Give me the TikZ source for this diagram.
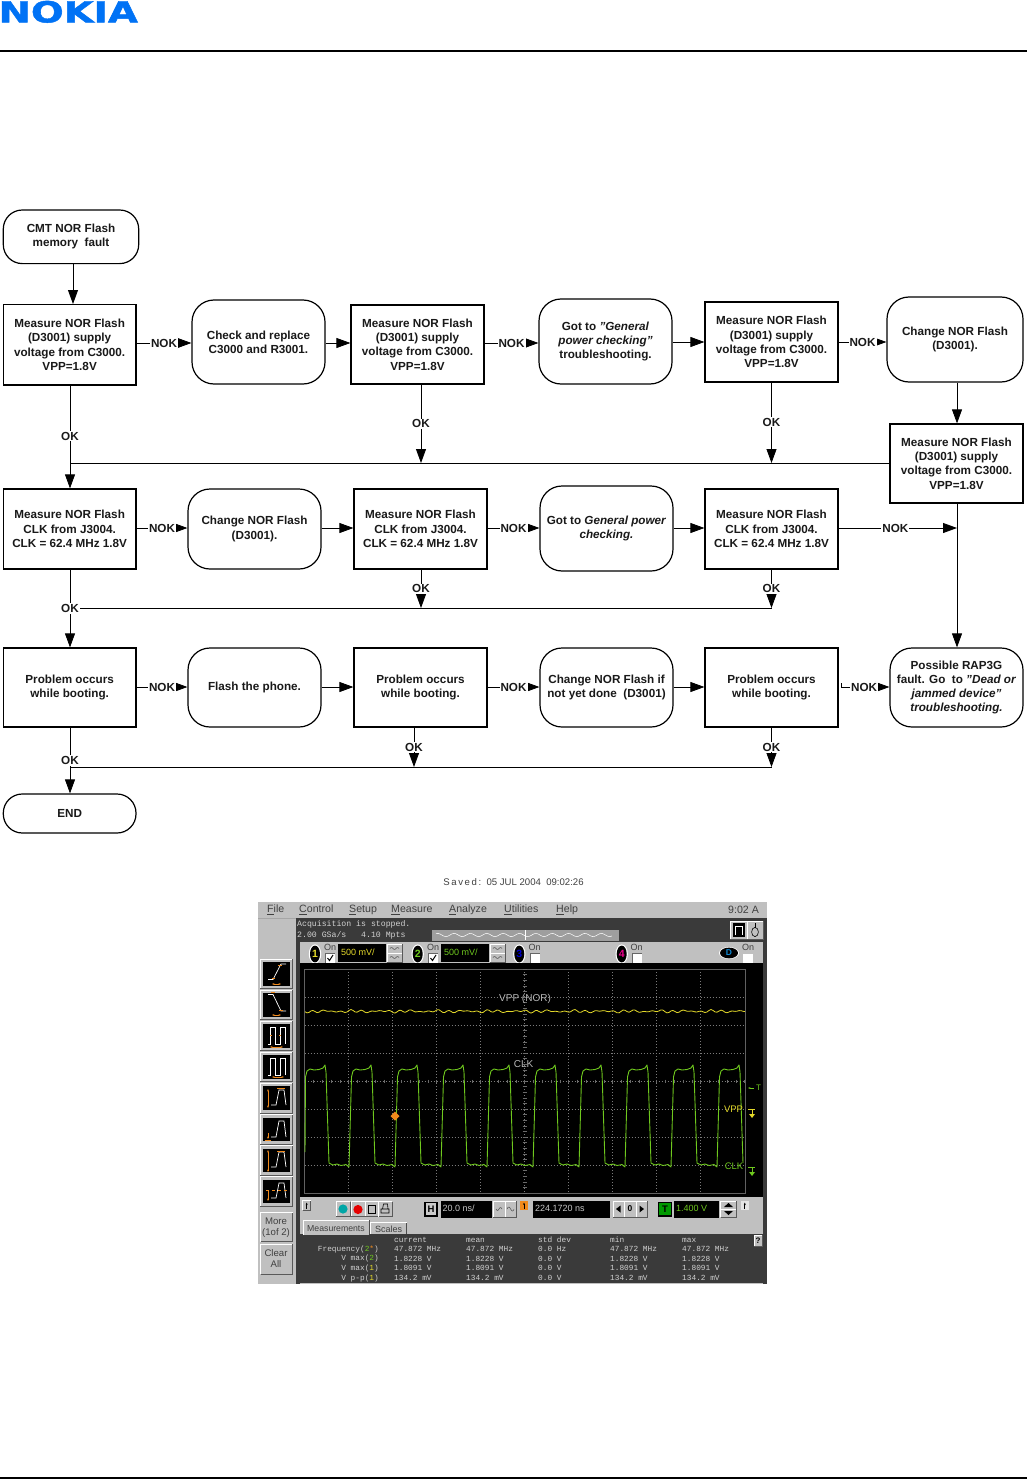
\documentclass[tikz,border=0pt]{standalone}
\usepackage{fontspec}
\setmainfont{Liberation Sans}
\newfontfamily\nokiafont[FakeBold=1.5]{DejaVu Sans Bold}
\newfontfamily\scopemono{Liberation Mono}
\usetikzlibrary{arrows.meta,shapes.geometric,calc}
\definecolor{nokiablue}{HTML}{0072F5}
\definecolor{panelgray}{HTML}{C0C0C0}
\definecolor{darkpanel}{HTML}{3A3A3A}
\definecolor{tracegreen}{HTML}{6FC81E}
\definecolor{traceyellow}{HTML}{E4D92A}
\definecolor{scopeorange}{HTML}{F08A1C}
\tikzset{
  flowtext/.style={font=\fontsize{11.7}{14.3}\selectfont\bfseries,align=center,inner sep=0pt,text=black!90},
  rectbox/.style={draw=black,line width=1.2pt,flowtext},
  roundbox/.style={draw=black,line width=1.2pt,rounded corners=22pt,flowtext},
  endbox/.style={draw=black,line width=1.2pt,rounded corners=19pt,flowtext},
  flowline/.style={draw=black,line width=0.8pt},
  arrowline/.style={flowline,-{Triangle[length=14pt,width=10pt]}},
  lab/.style={fill=white,inner sep=1pt,font=\fontsize{11.7}{13}\selectfont\bfseries,text=black!90},
  uitext/.style={inner sep=0pt,font=\fontsize{10.6}{11}\selectfont,text=black!75},
  smalltext/.style={inner sep=0pt,font=\fontsize{9}{9.6}\selectfont,text=black!75,align=center},
  monotext/.style={inner sep=0pt,anchor=west,font=\fontsize{7.8}{8}\selectfont\scopemono,text=white!82!black},
  disptext/.style={inner sep=0pt,anchor=west,font=\fontsize{9}{10}\selectfont},
  griddot/.style={draw=white!48!black,line width=0.5pt,dash pattern=on 0.8pt off 2.2pt},
}
\newcommand{\flow}[7]{%
  \pgfmathsetmacro{\fcx}{(#3+#5)/2}\pgfmathsetmacro{\fcy}{(#4+#6)/2}%
  \pgfmathsetmacro{\fw}{#5-#3}\pgfmathsetmacro{\fh}{#6-#4}%
  \node[#1,minimum width=\fw pt,minimum height=\fh pt] (#2) at (\fcx,\fcy) {#7};}
\newcommand{\btn}[4]{%
  \fill[panelgray] (#1,#2) rectangle (#3,#4);
  \draw[white,line width=.8pt] (#1,#4) -- (#1,#2) -- (#3,#2);
  \draw[black!65,line width=.8pt] (#1,#4) -- (#3,#4) -- (#3,#2);}
\begin{document}
\begin{tikzpicture}[x=1pt,y=-1pt]
\useasboundingbox (0,0) rectangle (1027,1479);
\fill[white] (0,0) rectangle (1027,1479);
% header and footer
\begin{scope}
\clip (0,0) rectangle (1027,60);
\node[inner sep=0pt,anchor=base west,text=nokiablue] (logo) at (-1.5,22.4)
  {\scalebox{1.33}[1]{\fontsize{29}{30}\selectfont\nokiafont NOKIA}};
\end{scope}
\draw[black,line width=1.5pt] (0,51) -- (1027,51);
\draw[black,line width=1.5pt] (0,1478.2) -- (1027,1478.2);
% flow nodes
\flow{endbox}{start}{3.3}{210}{138.7}{263.6}{CMT NOR Flash\\memory\ \ fault}
\flow{rectbox}{aa}{3.3}{304.6}{136}{385}{Measure NOR Flash\\(D3001) supply\\voltage from C3000.\\VPP=1.8V}
\flow{roundbox}{ab}{192}{300}{325}{384}{Check and replace\\C3000 and R3001.}
\flow{rectbox}{ac}{351}{305}{484}{384}{Measure NOR Flash\\(D3001) supply\\voltage from C3000.\\VPP=1.8V}
\flow{roundbox}{ad}{539}{299}{672}{384}{Got to \textit{"General}\\\textit{power checking"}\\troubleshooting.}
\flow{rectbox}{ae}{705}{302}{838}{382}{Measure NOR Flash\\(D3001) supply\\voltage from C3000.\\VPP=1.8V}
\flow{roundbox}{af}{887}{297}{1023}{382}{Change NOR Flash\\(D3001).}
\flow{rectbox}{bf}{890}{424}{1023}{503}{Measure NOR Flash\\(D3001) supply\\voltage from C3000.\\VPP=1.8V}
\flow{rectbox}{ba}{3.3}{489}{136}{569}{Measure NOR Flash\\CLK from J3004.\\CLK = 62.4 MHz 1.8V}
\flow{roundbox}{bb}{188}{489}{321}{569}{Change NOR Flash\\(D3001).}
\flow{rectbox}{bc}{354}{489}{487}{569}{Measure NOR Flash\\CLK from J3004.\\CLK = 62.4 MHz 1.8V}
\flow{roundbox}{bd}{540}{486}{673}{571}{Got to \textit{General power}\\\textit{checking.}}
\flow{rectbox}{be}{705}{489}{838}{569}{Measure NOR Flash\\CLK from J3004.\\CLK = 62.4 MHz 1.8V}
\flow{rectbox}{ca}{3.3}{648}{136}{727}{Problem occurs\\while booting.}
\flow{roundbox}{cb}{188}{648}{321}{727}{Flash the phone.}
\flow{rectbox}{cc}{354}{648}{487}{727}{Problem occurs\\while booting.}
\flow{roundbox}{cd}{540}{648}{673}{727}{Change NOR Flash if\\not yet done\ \ (D3001)}
\flow{rectbox}{ce}{705}{648}{838}{727}{Problem occurs\\while booting.}
\flow{roundbox}{cf}{890}{648}{1023}{727}{Possible RAP3G\\fault. Go\ \ to \textit{"Dead or}\\\textit{jammed device"}\\\textit{troubleshooting.}}
\flow{endbox}{fin}{3.3}{794}{136}{833}{END}
% helper coordinates
\coordinate (r1) at (0,343);
\coordinate (r1b) at (0,342);
\coordinate (r2) at (0,528);
\coordinate (r3) at (0,687);
\coordinate (ca1) at (70,0);
\coordinate (ca3) at (421,0);
\coordinate (ca5) at (771.5,0);
\coordinate (cb3) at (414,0);
\coordinate (busa) at (0,463);
\coordinate (busb) at (0,608);
\coordinate (busc) at (0,767);
\coordinate (colr) at (957,0);
\coordinate (cs) at (73,0);
% row connectors
\draw[arrowline] (start.south -| cs) -- (aa.north -| cs);
\draw[arrowline] (aa.east |- r1) -- node[lab]{NOK} (ab.west |- r1);
\draw[arrowline] (ab.east |- r1) -- (ac.west |- r1);
\draw[arrowline] (ac.east |- r1) -- node[lab]{NOK} (ad.west |- r1);
\draw[arrowline] (ad.east |- r1b) -- (ae.west |- r1b);
\draw[arrowline] (ae.east |- r1b) -- node[lab]{NOK} (af.west |- r1b);
\draw[arrowline] (af.south -| colr) -- (bf.north -| colr);
\draw[flowline] (bf.west |- busa) -- (ca1 |- busa);
\draw[arrowline] (aa.south -| ca1) -- node[lab,pos=.49]{OK} (ba.north -| ca1);
\draw[arrowline] (ac.south -| ca3) -- node[lab,pos=.5]{OK} (ca3 |- busa);
\draw[arrowline] (ae.south -| ca5) -- node[lab,pos=.49]{OK} (ca5 |- busa);
\draw[arrowline] (ba.east |- r2) -- node[lab]{NOK} (bb.west |- r2);
\draw[arrowline] (bb.east |- r2) -- (bc.west |- r2);
\draw[arrowline] (bc.east |- r2) -- node[lab]{NOK} (bd.west |- r2);
\draw[arrowline] (bd.east |- r2) -- (be.west |- r2);
\draw[arrowline] (be.east |- r2) -- node[lab,pos=.48]{NOK} (colr |- r2);
\draw[arrowline] (bf.south -| colr) -- (cf.north -| colr);
\draw[flowline] (ca5 |- busb) -- (ca1 |- busb);
\draw[arrowline] (ba.south -| ca1) -- node[lab,pos=.5]{OK} (ca.north -| ca1);
\draw[arrowline] (bc.south -| ca3) -- node[lab,pos=.5]{OK} (ca3 |- busb);
\draw[arrowline] (be.south -| ca5) -- node[lab,pos=.5]{OK} (ca5 |- busb);
\draw[arrowline] (ca.east |- r3) -- node[lab]{NOK} (cb.west |- r3);
\draw[arrowline] (cb.east |- r3) -- (cc.west |- r3);
\draw[arrowline] (cc.east |- r3) -- node[lab]{NOK} (cd.west |- r3);
\draw[arrowline] (cd.east |- r3) -- (ce.west |- r3);
\draw[arrowline] (ce.east |- r3) ++(3,-4) -- ++(0,4) -- node[lab,pos=.47]{NOK} (cf.west |- r3);
\draw[flowline] (ca5 |- busc) -- (ca1 |- busc);
\draw[arrowline] (ca.south -| ca1) -- node[lab,pos=.5]{OK} (fin.north -| ca1);
\draw[arrowline] (cc.south -| cb3) -- node[lab,pos=.5]{OK} (cb3 |- busc);
\draw[arrowline] (ce.south -| ca5) -- node[lab,pos=.5]{OK} (ca5 |- busc);
% oscilloscope screenshot
\node[inner sep=0pt,font=\fontsize{9.6}{10}\selectfont,text=black!75] (saved) at (513.5,882) {S\,a\,v\,e\,d\,:\ \ 05 JUL 2004\ \ 09:02:26};
\fill[panelgray] (258,902) rectangle (767,1284);
\draw[black!35,line width=.6pt] (258,918) -- (767,918);
\foreach \tx/\ty in {267/{\underline{F}ile},299/{\underline{C}ontrol},349/{\underline{S}etup},391/{\underline{M}easure},449/{\underline{A}nalyze},504/{\underline{U}tilities},556/{\underline{H}elp}}
  \node[uitext,anchor=west] at (\tx,910) {\ty};
\node[uitext,anchor=west] at (728,910) {9:02 A};
\fill[darkpanel] (296,918) rectangle (767,942);
\fill[darkpanel] (296,918) rectangle (300,1284);
\fill[darkpanel] (763,918) rectangle (767,1284);
\fill[panelgray] (300,942) rectangle (763,963);
\node[monotext,font=\fontsize{8.2}{9}\selectfont\scopemono] at (297,924.5) {Acquisition is stopped.};
\node[monotext,font=\fontsize{8.2}{9}\selectfont\scopemono] at (297,935) {2.00 GSa/s\ \ \ 4.10 Mpts};
% wave strip
\fill[white!62!black] (432,929.5) rectangle (619,940.5);
\draw[white,line width=.5pt] plot[domain=436:612,samples=90] (\x,{935+1.6*sin(\x*22)});
\draw[white,line width=.6pt] (525,930) -- (525,940);
% top-right buttons
\btn{730}{921}{747}{939}\btn{747}{921}{763}{939}
\fill[black] (733,923) rectangle (745,937);
\draw[white,line width=.8pt] (735,935) -- (735,926) -- (742,926) -- (742,935);
\draw[black,line width=.6pt] (755,932) ellipse (3.4 and 4.6);
\draw[black,line width=.6pt] (755,928) -- (755,923);
% channel bar
\foreach \cx/\lbl/\lcol/\on in {315/1/traceyellow/330,417.7/2/tracegreen/433,519.3/3/blue!80!black/534.7,621.7/4/magenta/636.7}{
  \fill[white] (\cx,954) ellipse (6.2 and 9.6);
  \fill[black] (\cx,954) ellipse (5 and 8.4);
  \node[inner sep=0pt,font=\fontsize{10.5}{11}\selectfont\bfseries,text=\lcol] at (\cx,954) {\lbl};
  \node[smalltext] at (\on,947.5) {On};
  \fill[white] (\on-4.8,953.5) rectangle (\on+4.8,962.5);
  \draw[black!60,line width=.6pt] (\on-4.8,962.5) -- (\on-4.8,953.5) -- (\on+4.8,953.5);
}
\draw[black,line width=1pt] (327.5,958) -- (329.5,960.5) -- (333,955);
\draw[black,line width=1pt] (430.5,958) -- (432.5,960.5) -- (436,955);
\fill[white] (729,953) ellipse (10 and 6);
\fill[black] (729,953) ellipse (9 and 5.4);
\node[inner sep=0pt,font=\fontsize{8.5}{9}\selectfont\bfseries,text=cyan!70!blue] at (729,953) {D};
\node[smalltext] at (748,947.5) {On};
\fill[white] (743.2,953.5) rectangle (752.8,962.5);
\fill[black] (338,944) rectangle (386,962);
\node[disptext,text=traceyellow] at (341,952.5) {500 mV/};
\fill[black] (441,944) rectangle (488.7,962);
\node[disptext,text=tracegreen] at (444,952.5) {500 mV/};
\foreach \bx in {387,490}{
  \btn{\bx}{944}{\bx+15}{953}\btn{\bx}{953}{\bx+15}{962}
  \draw[black!70,line width=.5pt] plot[domain=\bx+3:\bx+12,samples=12] (\x,{948.5+1*sin((\x-\bx)*60)});
  \draw[black!70,line width=.5pt] plot[domain=\bx+3:\bx+12,samples=12] (\x,{957.5+1*sin((\x-\bx)*60)});
}
% screen
\fill[black] (300,963) rectangle (763,1197);
\foreach \k in {1,...,9}{
  \draw[griddot] ({304.7+44*\k},969) -- ({304.7+44*\k},1193);}
\foreach \k in {1,...,7}{
  \draw[griddot] (304.7,{969+28*\k}) -- (745,{969+28*\k});}
\draw[white!38!black,line width=.6pt] (304.5,969) rectangle (745,1193);
\foreach \k in {0,...,40}{
  \draw[white!42!black,line width=.5pt] (522.5,{969+5.6*\k}) -- (526.5,{969+5.6*\k});}
\foreach \k in {0,...,50}{
  \draw[white!42!black,line width=.5pt] ({304.7+8.8*\k},1079.5) -- ({304.7+8.8*\k},1082.5);}
\draw[traceyellow,line width=.8pt] plot[domain=0:440,samples=221] ({\x+305},{1011.3+0.8*sin(\x*37)+0.6*sin(\x*29+40)+0.5*sin(\x*13)});
\draw[tracegreen,line width=.9pt,line join=round]
  (305,1152) foreach \k [evaluate=\k as \r using 305+46*\k] in {0,...,8}{
    -- (\r+0.5,1077) -- (\r+2,1071) -- (\r+5,1069) -- (\r+9,1070) -- (\r+14,1069.5) -- (\r+18,1068) -- (\r+20,1065) -- (\r+21,1072)
    -- (\r+24,1163) -- (\r+28,1165) -- (\r+32,1164) -- (\r+36,1165.5) -- (\r+41,1164.5) -- (\r+44,1167)
  }
  -- (719.5,1077) -- (721,1071) -- (724,1069) -- (728,1070) -- (733,1069.5) -- (737,1068) -- (739,1065) -- (740,1072) -- (743,1163);
\fill[scopeorange] (395,1111.5) -- (399.5,1116) -- (395,1120.5) -- (390.5,1116) -- cycle;
\node[inner sep=0pt,font=\fontsize{10}{11}\selectfont,text=white!72!black] at (525,999) {VPP (NOR)};
\node[inner sep=0pt,font=\fontsize{10}{11}\selectfont,text=white!72!black] at (523.5,1064) {CLK};
\node[inner sep=0pt,font=\fontsize{9.5}{10}\selectfont,text=traceyellow] at (733.5,1109) {VPP};
\node[inner sep=0pt,font=\fontsize{9.5}{10}\selectfont,text=tracegreen] at (734,1166.5) {CLK};
\node[inner sep=0pt,font=\fontsize{8}{8}\selectfont,text=tracegreen] at (758.5,1088) {T};
\draw[tracegreen,line width=.7pt,-{Stealth[length=2.5pt]}] (753.5,1088) -- (748,1088);
\foreach \ay/\acol in {1111/traceyellow,1169/tracegreen}{
  \draw[\acol,line width=.8pt] (748,\ay-2) -- (755,\ay-2) (752,\ay-2) -- (752,\ay+4);
  \fill[\acol] (749,\ay+3) -- (755,\ay+3) -- (752,\ay+7) -- cycle;
}
% left tool buttons
\foreach \k in {0,...,7}{
  \pgfmathsetmacro{\by}{959+31.1*\k}
  \btn{260}{\by}{292.7}{\by+29.5}
  \fill[black] (263,\by+3) rectangle (289.5,\by+26.5);
}
\begin{scope}[white,line width=.7pt]
\draw (268,979.5) -- (273,979.5) -- (281,964) -- (286,964);
\draw (268,994.5) -- (273,994.5) -- (281,1011) -- (286,1011);
\draw (268,1044) -- (270,1044) -- (270,1027) -- (275,1027) -- (275,1044) -- (280,1044) -- (280,1027) -- (285,1027) -- (285,1044);
\draw (268,1075) -- (270,1075) -- (270,1058) -- (275,1058) -- (275,1075) -- (280,1075) -- (280,1058) -- (285,1058) -- (285,1075);
\draw (271,1105) -- (276,1105) -- (279,1090) -- (284,1090) -- (286,1105);
\draw (271,1137) -- (276,1137) -- (279,1121) -- (284,1121) -- (286,1137);
\draw (271,1167) -- (276,1167) -- (279,1152) -- (284,1152) -- (286,1167);
\draw (271,1198) -- (276,1198) -- (279,1183) -- (284,1183) -- (286,1198);
\end{scope}
\begin{scope}[scopeorange,line width=.8pt]
\draw (272,978) -- (275,978) (278,965) -- (282,965);
\draw[{Stealth[length=2.5pt]}-{Stealth[length=2.5pt]}] (272,984) -- (281,984);
\draw (271,992) -- (275,992) (279,1010) -- (283,1010);
\draw[{Stealth[length=2.5pt]}-{Stealth[length=2.5pt]}] (272,1015) -- (281,1015);
\draw (270,1035) -- (272,1035) (279,1035) -- (281,1035);
\draw[{Stealth[length=2.5pt]}-{Stealth[length=2.5pt]}] (270,1047) -- (283,1047);
\draw[{Stealth[length=2.5pt]}-{Stealth[length=2.5pt]}] (272,1077) -- (284,1077);
\draw[{Stealth[length=2.5pt]}-{Stealth[length=2.5pt]}] (268,1089) -- (268,1108);
\draw (277,1088) -- (285,1088);
\draw[-{Stealth[length=2.5pt]}] (268,1133) -- (268,1139);
\draw (264.5,1140) -- (271,1140);
\draw[{Stealth[length=2.5pt]}-{Stealth[length=2.5pt]}] (268,1150) -- (268,1172);
\draw (277,1151) -- (285,1151);
\draw[-{Stealth[length=2.5pt]}] (268,1191) -- (268,1201);
\draw[dashed,line width=.5pt] (266,1190) -- (287,1190);
\end{scope}
\btn{260.7}{1212.7}{292.7}{1241.7}
\node[smalltext,font=\fontsize{9.6}{10.4}\selectfont] at (276,1227.5) {More\\(1of 2)};
\btn{260.7}{1244}{292.7}{1274}
\node[smalltext,font=\fontsize{9.6}{10.4}\selectfont] at (276,1258.5) {Clear\\All};
% lower toolbar
\fill[panelgray] (300,1197) rectangle (763,1234);
\btn{302.7}{1200.7}{310.7}{1210}
\draw[black,line width=.7pt,-{Stealth[length=2.5pt]}] (306.7,1208.5) -- (306.7,1202.5);
\btn{336}{1201.5}{350}{1216.5}\btn{351}{1201.5}{365}{1216.5}
\fill[teal!70!cyan] (343,1209) circle (4.6);
\fill[red!90!black] (358,1209.5) circle (4.6);
\btn{365}{1201.5}{378}{1216.5}\btn{378.5}{1201.5}{392}{1216.5}
\draw[black,line width=.6pt] (368,1205) rectangle (375,1213);
\draw[black,line width=.6pt] (381,1209) rectangle (389,1213) (382.5,1209) -- (383.5,1204) -- (387.5,1204) -- (388,1209);
\fill[black] (424.3,1201.7) rectangle (437.7,1216.7);
\fill[white!80!black] (425.6,1203) rectangle (436.4,1215.4);
\node[inner sep=0pt,font=\fontsize{9.5}{10}\selectfont\bfseries] at (431,1209.2) {H};
\fill[black] (440.7,1200.7) rectangle (491.7,1218);
\node[disptext,text=white!78!black] at (442.5,1208.5) {20.0 ns/};
\btn{493}{1201}{505}{1217}\btn{505}{1201}{516}{1217}
\draw[black!70,line width=.5pt] plot[domain=496:502,samples=10] (\x,{1209+1.5*sin((\x-496)*60)});
\draw[black!70,line width=.5pt] plot[domain=507:514,samples=10] (\x,{1209-2*sin((\x-507)*50)});
\fill[scopeorange] (520,1200.7) rectangle (528,1210);
\draw[black,line width=.7pt,-{Stealth[length=2.5pt]}] (524,1208.5) -- (524,1202.5);
\fill[black] (533,1200.7) rectangle (610,1218);
\node[disptext,text=white!78!black] at (535,1208.5) {224.1720 ns};
\btn{613}{1201}{624}{1217}\btn{624}{1201}{636}{1217}\btn{636}{1201}{647}{1217}
\fill[black] (620.5,1205.5) -- (620.5,1212.5) -- (616,1209) -- cycle;
\node[inner sep=0pt,font=\fontsize{8.5}{9}\selectfont\bfseries] at (630,1209) {0};
\fill[black] (639.5,1205.5) -- (639.5,1212.5) -- (644,1209) -- cycle;
\fill[black] (658,1201.7) rectangle (672,1216.7);
\fill[green!60!black] (659.3,1203) rectangle (670.7,1215.4);
\node[inner sep=0pt,font=\fontsize{9.5}{10}\selectfont\bfseries] at (665,1209.2) {T};
\fill[black] (674,1200.7) rectangle (719,1218);
\node[disptext,text=tracegreen] at (676,1208.5) {1.400 V};
\btn{720.7}{1201}{736}{1209}\btn{720.7}{1209}{736}{1217}
\fill[black] (724,1207) -- (733,1207) -- (728.5,1203) -- cycle;
\fill[black] (724,1211) -- (733,1211) -- (728.5,1215) -- cycle;
\fill[white!90!black] (740.7,1200.7) rectangle (749,1210);
\draw[black,line width=.7pt,-{Stealth[length=2.5pt]}] (744.8,1208.5) -- (744.8,1202.5);
% measurement panel
\fill[darkpanel] (300,1234) rectangle (767,1283);
\fill[panelgray] (303,1220) rectangle (369,1235);
\draw[white,line width=.7pt] (303,1235) -- (303,1220) -- (369,1220);
\draw[black!70,line width=.6pt] (369,1220) -- (369,1234);
\node[smalltext,font=\fontsize{8.7}{9}\selectfont] at (336,1229) {Measurements};
\fill[panelgray] (370.7,1222.7) rectangle (406.7,1234);
\draw[black!70,line width=.6pt] (406.7,1222.7) -- (406.7,1234);
\draw[white,line width=.7pt] (370.7,1234) -- (370.7,1222.7) -- (406.7,1222.7);
\node[smalltext] at (388.7,1229) {Scales};
\btn{754}{1235}{762}{1246}
\node[inner sep=0pt,font=\fontsize{8}{9}\selectfont\bfseries] at (758,1240.5) {?};
\foreach \cx/\a/\b/\c/\d/\e in {
  394/current/47.872 MHz/1.8228 V/1.8091 V/134.2 mV,
  466/mean/47.872 MHz/1.8228 V/1.8091 V/134.2 mV,
  538/std dev/0.0 Hz/0.0 V/0.0 V/0.0 V,
  610/min/47.872 MHz/1.8228 V/1.8091 V/134.2 mV,
  682/max/47.872 MHz/1.8228 V/1.8091 V/134.2 mV}{
  \node[monotext] at (\cx,1240) {\a};
  \node[monotext] at (\cx,1249.3) {\b};
  \node[monotext] at (\cx,1258.7) {\c};
  \node[monotext] at (\cx,1268.3) {\d};
  \node[monotext] at (\cx,1278) {\e};
}
\node[monotext,anchor=east] at (379,1249.3) {Frequency(\textcolor{tracegreen}{2}\textcolor{scopeorange}{*})};
\foreach \ly/\ln/\lk/\lc in {1258.7/V max/2/tracegreen,1268.3/V max/1/traceyellow,1278/V p-p/1/traceyellow}{
  \node[monotext,anchor=east] at (379,\ly) {\ln(\textcolor{\lc}{\lk})};
}
\end{tikzpicture}
\end{document}
